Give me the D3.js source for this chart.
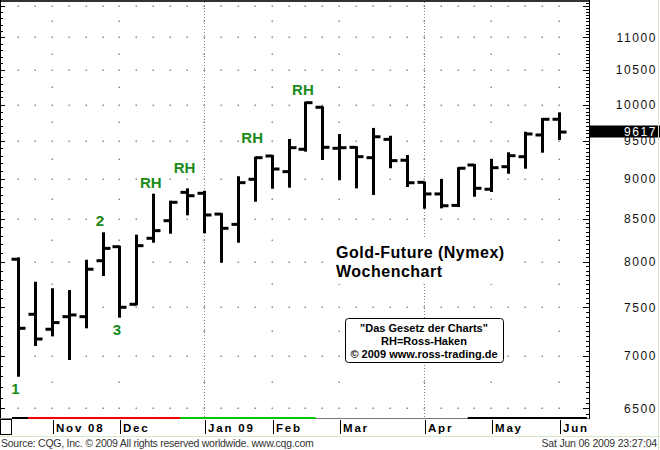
<!DOCTYPE html>
<html>
<head>
<meta charset="utf-8">
<script src="https://cdn.jsdelivr.net/npm/d3@7"></script>
<style>
  body { margin: 0; background: #fff; }
  svg { display: block; font-family: "Liberation Sans", Arial, sans-serif; }
</style>
</head>
<body>
<div id="chart"></div>
<script>
// weekly bars, Monday of each week
const weeks = [
  "2008-10-20", "2008-10-27", "2008-11-03", "2008-11-10", "2008-11-17", "2008-11-24",
  "2008-12-01", "2008-12-08", "2008-12-15", "2008-12-22", "2008-12-29",
  "2009-01-05", "2009-01-12", "2009-01-19", "2009-01-26",
  "2009-02-02", "2009-02-09", "2009-02-16", "2009-02-23",
  "2009-03-02", "2009-03-09", "2009-03-16", "2009-03-23", "2009-03-30",
  "2009-04-06", "2009-04-13", "2009-04-20", "2009-04-27",
  "2009-05-04", "2009-05-11", "2009-05-18", "2009-05-25", "2009-06-01"
];
const open  = [8030, 7427, 7271, 7402, 7402, 8013, 8174, 7533, 8272, 8481, 8829,
               8817, 8561, 8437, 8994, 9296, 9092, 9385, 9961, 9398, 9411, 9274,
               9518, 9240, 8955, 8809, 8667, 9178, 8868, 9156, 9287, 9577, 9793];
const high  = [8040, 7767, 7695, 7676, 8013, 8331, 8174, 8303, 8800, 8713, 8867,
               8837, 8561, 9020, 9274, 9296, 9510, 10026, 9961, 9577, 9411, 9660,
               9553, 9296, 8955, 8985, 9136, 9178, 9244, 9331, 9608, 9797, 9876];
const low   = [6807, 7111, 7208, 6971, 7291, 7852, 7402, 7533, 8232, 8338, 8558,
               8343, 8002, 8232, 8725, 8887, 8900, 9367, 9257, 8994, 8892, 8809,
               9149, 8909, 8638, 8643, 8659, 8787, 8846, 9078, 9143, 9353, 9523];
const close = [7281, 7171, 7340, 7420, 7917, 8155, 7501, 8186, 8362, 8705, 8787,
               8550, 8390, 8951, 9274, 9126, 9406, 10026, 9411, 9406, 9287, 9553,
               9235, 8950, 8809, 8663, 9136, 8880, 9143, 9300, 9591, 9793, 9617];

const priceTicks = [6500, 7000, 7500, 8000, 8500, 9000, 9500, 10000, 10500, 11000];
const lastPrice = 9617;

const monthWeeks  = ["2008-11-03", "2008-12-01", "2009-01-05", "2009-02-02",
                     "2009-03-02", "2009-04-06", "2009-05-04", "2009-06-01"];
const monthLabels = ["Nov 08", "Dec", "Jan 09", "Feb", "Mar", "Apr", "May", "Jun"];
const quarterWeeks = ["2009-01-05", "2009-04-06"];

// trend colour strip under the bars (in week index units)
const trendFrom   = [-0.35, 0.6, 9.6, 26.6];
const trendTo     = [0.6, 9.6, 17.6, 33.65];
const trendColors = ["#000000", "#ff0000", "#00c800", "#000000"];

// Ross hooks etc.
const noteWeeks  = ["2008-10-20", "2008-11-24", "2008-12-01", "2008-12-15",
                    "2008-12-29", "2009-01-26", "2009-02-16"];
const notePrices = [6680, 8478, 7271, 8947, 9139, 9540, 10218];
const noteTexts  = ["1", "2", "3", "RH", "RH", "RH", "RH"];

const W = 660, H = 450;
const plotRight = 589, plotBottom = 418;

const svg = d3.select("#chart").append("svg")
  .attr("width", W).attr("height", H);
svg.append("rect").attr("width", W).attr("height", H).attr("fill", "#fff");

const idx = d3.scaleLinear().domain([0, weeks.length - 1]).range([18, 559]);
const x = (w) => idx(weeks.indexOf(w));
const y = d3.scaleLog().domain([6500, 11000]).range([408.3, 37.3]);

// grid dots
const grid = svg.append("g");
const levels = d3.range(6500, 11501, 250);
levels.forEach(function (lv) {
  const xs = lv % 500 === 0 ? weeks.map(x) : monthWeeks.map(x);
  grid.selectAll(null).data(xs).enter().append("rect")
    .attr("x", (d) => Math.round(d) - 0.5)
    .attr("y", Math.round(y(lv)) - 0.5)
    .attr("width", 1.5).attr("height", 1.5)
    .attr("fill", "#8a8a8a");
});
grid.selectAll(null).data(quarterWeeks).enter().append("line")
  .attr("x1", (d) => Math.round(x(d)) + 0.5).attr("x2", (d) => Math.round(x(d)) + 0.5)
  .attr("y1", 2).attr("y2", plotBottom)
  .attr("stroke", "#8a8a8a").attr("stroke-dasharray", "1,2");

// title + info box (white background hides grid)
svg.append("rect").attr("x", 330).attr("y", 238).attr("width", 186).attr("height", 46).attr("fill", "#fff");
svg.append("text").attr("x", 336).attr("y", 257.5).text("Gold-Future (Nymex)")
  .style("font-size", "16px").style("font-weight", "bold").style("letter-spacing", "0.5px");
svg.append("text").attr("x", 336).attr("y", 276.5).text("Wochenchart")
  .style("font-size", "16px").style("font-weight", "bold").style("letter-spacing", "0.5px");

svg.append("rect").attr("x", 345.5).attr("y", 318.5).attr("width", 158).attr("height", 44)
  .attr("rx", 3).attr("fill", "#fff").attr("stroke", "#000");
const boxLines = ["\"Das Gesetz der Charts\"", "RH=Ross-Haken", "© 2009 www.ross-trading.de"];
svg.selectAll(null).data(boxLines).enter().append("text")
  .attr("x", 424).attr("y", (d, i) => 332 + i * 13)
  .attr("text-anchor", "middle")
  .style("font-size", "11px").style("font-weight", "bold")
  .text((d) => d);

// bars: high-low stem, open tick left, close tick right
const bars = svg.append("g").attr("stroke", "#000").attr("stroke-width", 3);
weeks.forEach(function (w, i) {
  const cx = Math.round(x(w)) + 0.5;
  bars.append("line").attr("x1", cx).attr("x2", cx)
    .attr("y1", y(high[i]) - 1).attr("y2", y(low[i]) + 1);
  bars.append("line").attr("x1", cx - 7).attr("x2", cx)
    .attr("y1", y(open[i])).attr("y2", y(open[i]));
  bars.append("line").attr("x1", cx).attr("x2", cx + 7)
    .attr("y1", y(close[i])).attr("y2", y(close[i]));
});

// notes
svg.selectAll(null).data(noteTexts).enter().append("text")
  .attr("x", (d, i) => x(noteWeeks[i]) - 2.5)
  .attr("y", (d, i) => y(notePrices[i]))
  .attr("text-anchor", "middle").attr("dy", "0.36em")
  .attr("fill", "#1a8a1a")
  .style("font-size", "15px").style("font-weight", "bold")
  .text((d) => d);

// frame: top, left edge, right axis
svg.append("line").attr("x1", 0).attr("x2", plotRight).attr("y1", 1).attr("y2", 1)
  .attr("stroke", "#333").attr("stroke-width", 2);
svg.append("line").attr("x1", 0.5).attr("x2", 0.5).attr("y1", 0).attr("y2", plotBottom)
  .attr("stroke", "#000");
svg.append("line").attr("x1", plotRight + 0.5).attr("x2", plotRight + 0.5).attr("y1", 0).attr("y2", plotBottom + 1)
  .attr("stroke", "#000");

const minor = d3.range(6450, 11651, 50).filter((v) => y(v) > 2 && y(v) < plotBottom);
svg.selectAll(null).data(minor).enter().append("line")
  .attr("x1", (d) => plotRight - (d % 500 === 0 ? 6 : 3)).attr("x2", plotRight)
  .attr("y1", (d) => Math.round(y(d)) + 0.5).attr("y2", (d) => Math.round(y(d)) + 0.5)
  .attr("stroke", "#000");
svg.selectAll(null).data(minor.filter((d) => d % 100 === 0)).enter().append("line")
  .attr("x1", 0).attr("x2", (d) => (d % 500 === 0 ? 5 : 3))
  .attr("y1", (d) => Math.round(y(d)) + 0.5).attr("y2", (d) => Math.round(y(d)) + 0.5)
  .attr("stroke", "#000");

svg.selectAll(null).data(priceTicks).enter().append("text")
  .attr("x", 657).attr("y", (d) => y(d)).attr("dy", "0.36em")
  .attr("text-anchor", "end").attr("fill", "#111")
  .style("font-size", "12px").style("letter-spacing", "1.6px")
  .text((d) => d);

svg.append("rect").attr("x", plotRight).attr("y", 125.5).attr("width", W - plotRight).attr("height", 12)
  .attr("fill", "#000");
svg.append("text").attr("x", 657).attr("y", y(lastPrice)).attr("dy", "0.36em")
  .attr("text-anchor", "end").attr("fill", "#fff")
  .style("font-size", "12px").style("letter-spacing", "1.6px")
  .text(lastPrice);

// bottom strip
svg.append("line").attr("x1", 0).attr("x2", plotRight).attr("y1", plotBottom + 0.5).attr("y2", plotBottom + 0.5)
  .attr("stroke", "#777");
svg.selectAll(null).data(trendColors).enter().append("line")
  .attr("x1", (d, i) => idx(trendFrom[i])).attr("x2", (d, i) => Math.min(idx(trendTo[i]), plotRight))
  .attr("y1", plotBottom).attr("y2", plotBottom)
  .attr("stroke", (d) => d).attr("stroke-width", 2);

// month axis
svg.append("rect").attr("x", 0.5).attr("y", 419.5).attr("width", 11).attr("height", 15)
  .attr("fill", "#fff").attr("stroke", "#000");
const months = svg.append("g");
months.selectAll(null).data(monthWeeks).enter().append("line")
  .attr("x1", (d) => Math.round(x(d)) + 1.5).attr("x2", (d) => Math.round(x(d)) + 1.5)
  .attr("y1", 420).attr("y2", 434).attr("stroke", "#000");
months.selectAll(null).data(monthLabels).enter().append("text")
  .attr("x", (d, i) => Math.round(x(monthWeeks[i])) + 4).attr("y", 431.5)
  .style("font-size", "11.5px").style("font-weight", "bold").style("letter-spacing", "1.8px")
  .text((d) => d);

// footer
svg.append("line").attr("x1", 0).attr("x2", W).attr("y1", 436.5).attr("y2", 436.5).attr("stroke", "#d4e8cc");
svg.append("line").attr("x1", W - 1.5).attr("x2", W - 1.5).attr("y1", 0).attr("y2", H).attr("stroke", "#d4e8cc");
svg.append("text").attr("x", 1).attr("y", 447).attr("fill", "#333")
  .style("font-size", "10.5px").style("letter-spacing", "-0.25px")
  .text("Source: CQG, Inc. © 2009 All rights reserved worldwide. www.cqg.com");
svg.append("text").attr("x", 657).attr("y", 447).attr("fill", "#333").attr("text-anchor", "end")
  .style("font-size", "10.5px").style("letter-spacing", "-0.2px")
  .text("Sat Jun 06 2009 23:27:04");
</script>
</body>
</html>
